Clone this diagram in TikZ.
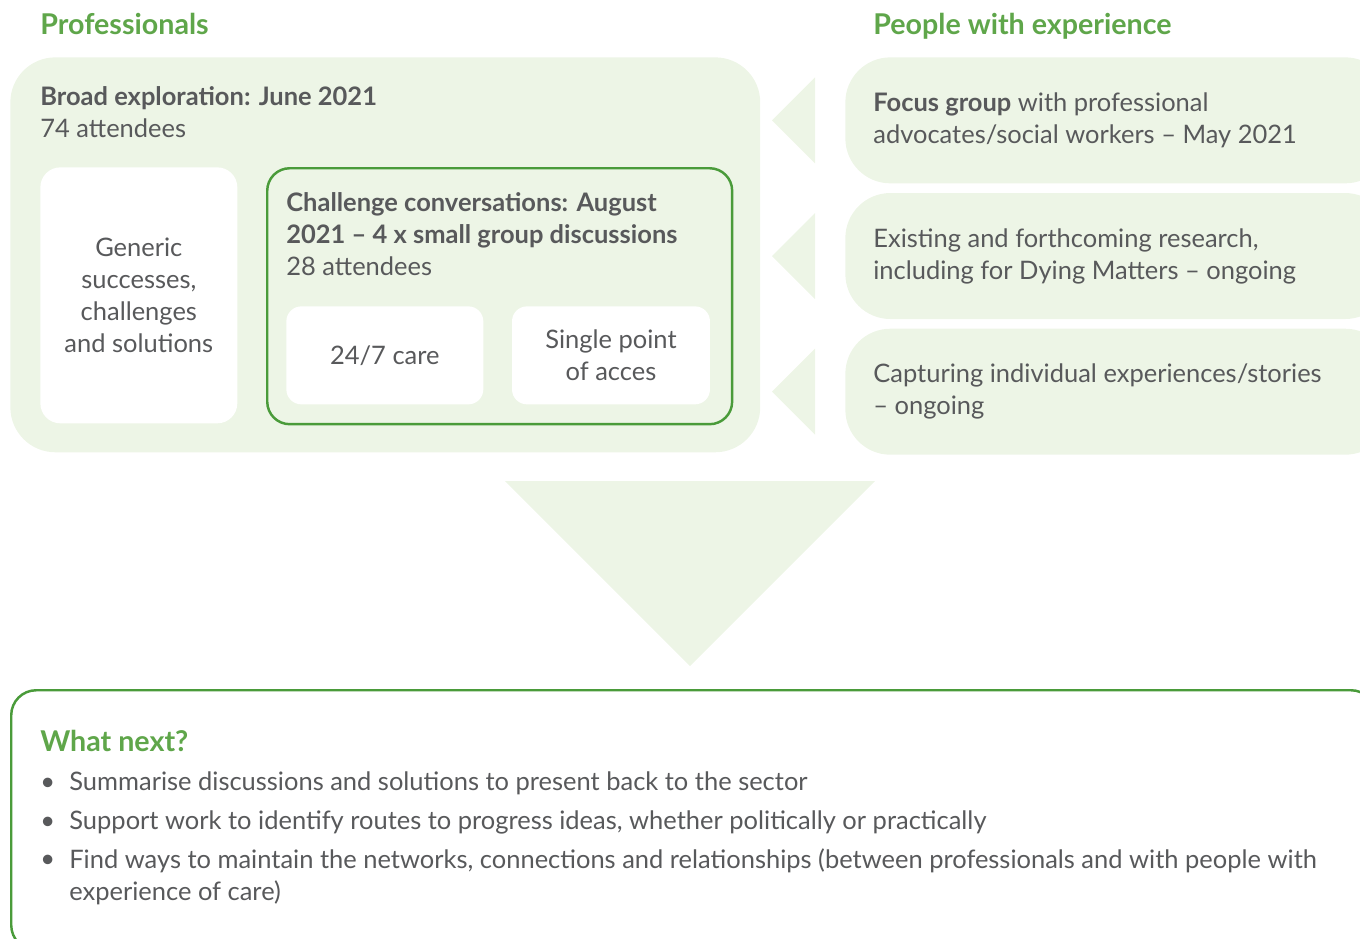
\documentclass[tikz,border=0pt]{standalone}
\usepackage{fontspec}
\setmainfont{Lato}
\usetikzlibrary{positioning}
\usetikzlibrary{calc}
\definecolor{leaf}{HTML}{5FA64A}
\definecolor{rim}{HTML}{4A9B3A}
\definecolor{pale}{HTML}{EDF5E6}
\definecolor{ink}{HTML}{58595B}
\tikzstyle{panel} = [fill=pale, rounded corners=0.9cm, anchor=north west]
\tikzstyle{card} = [fill=white, rounded corners=0.4cm, align=center]
\tikzstyle{pointer} = [fill=pale]

\begin{document}
\begin{tikzpicture}[x=0.02cm, y=-0.02cm,
	every node/.style={font=\fontsize{14.5}{18.2}\selectfont, text=ink, inner sep=0pt},
	heading/.style={font=\fontsize{16.3}{20}\selectfont\bfseries, text=leaf, anchor=base west},
	ring/.style={draw=rim, line width=1.4pt}]
    \clip (0,0) rectangle (1360,938);
    \node [heading] (proftitle) at (40,34) {Professionals};
    \node [heading] (peopletitle) at (873,34) {People with experience};
	%% Professionals panel
    \node [panel, minimum width=15cm, minimum height=7.9cm] (prof) at (10,57) {};
    \node [anchor=base west, align=left] (broad) at (40,137) {\textbf{Broad exploration: June 2021}\\74 attendees};
    \node [card, anchor=north west, minimum width=3.94cm, minimum height=5.12cm] (generic) at (40,167) {Generic\\successes,\\challenges\\and solutions};
    \node [panel, ring, rounded corners=0.45cm, minimum width=9.3cm, minimum height=5.12cm] (challenge) at (266,167) {};
    \node [anchor=base west, align=left] (chaltext) at (286,275) {\textbf{Challenge conversations: August}\\\textbf{2021 – 4 x small group discussions}\\28 attendees};
    \node [card, rounded corners=0.3cm, anchor=north west, minimum width=3.94cm, minimum height=1.96cm] (care) at (286,306) {24/7 care};
    \node [card, rounded corners=0.3cm, right=0.56cm of care, minimum width=3.96cm, minimum height=1.96cm] (access) {Single point\\of acces};
	%% People with experience
    \node [panel, minimum width=10.9cm, minimum height=2.52cm] (focus) at (845,57) {};
    \node [panel, below=0.18cm of focus, minimum width=10.9cm, minimum height=2.52cm] (research) {};
    \node [panel, below=0.18cm of research, minimum width=10.9cm, minimum height=2.52cm] (stories) {};
    \node [anchor=west, align=left] (focustext) at ($(focus.west)+(28,0)$) {\textbf{Focus group} with professional\\advocates/social workers – May 2021};
    \node [anchor=west, align=left] (researchtext) at ($(research.west)+(28,0)$) {Existing and forthcoming research,\\including for Dying Matters – ongoing};
    \node [anchor=west, align=left] (storiestext) at ($(stories.west)+(28,0)$) {Capturing individual experiences/stories\\– ongoing};
	%% Arrows
    \foreach \src in {focus,research,stories}
        \fill [pointer] ($(\src.west)+(-73,0)$) -- ($(\src.west)+(-30,-43)$) -- ($(\src.west)+(-30,43)$) -- cycle;
    \fill [pointer] (505,481) -- (875,481) -- (690,666) -- cycle;
	%% What next
    \node [ring, fill=white, rounded corners=0.5cm, anchor=north west, minimum width=27.3cm, minimum height=5.2cm] (next) at (10,689) {};
    \node [heading] (nexttitle) at (40,751) {What next?};
    \foreach \y in {790,829,867}
        \node [anchor=base west] (dot\y) at (40,\y) {•};
    \node [anchor=base west] (item1) at (69,790) {Summarise discussions and solutions to present back to the sector};
    \node [anchor=base west] (item2) at (69,829) {Support work to identify routes to progress ideas, whether politically or practically};
    \node [anchor=base west, align=left] (item3) at (69,900) {Find ways to maintain the networks, connections and relationships (between professionals and with people with\\experience of care)};
\end{tikzpicture}
\end{document}
